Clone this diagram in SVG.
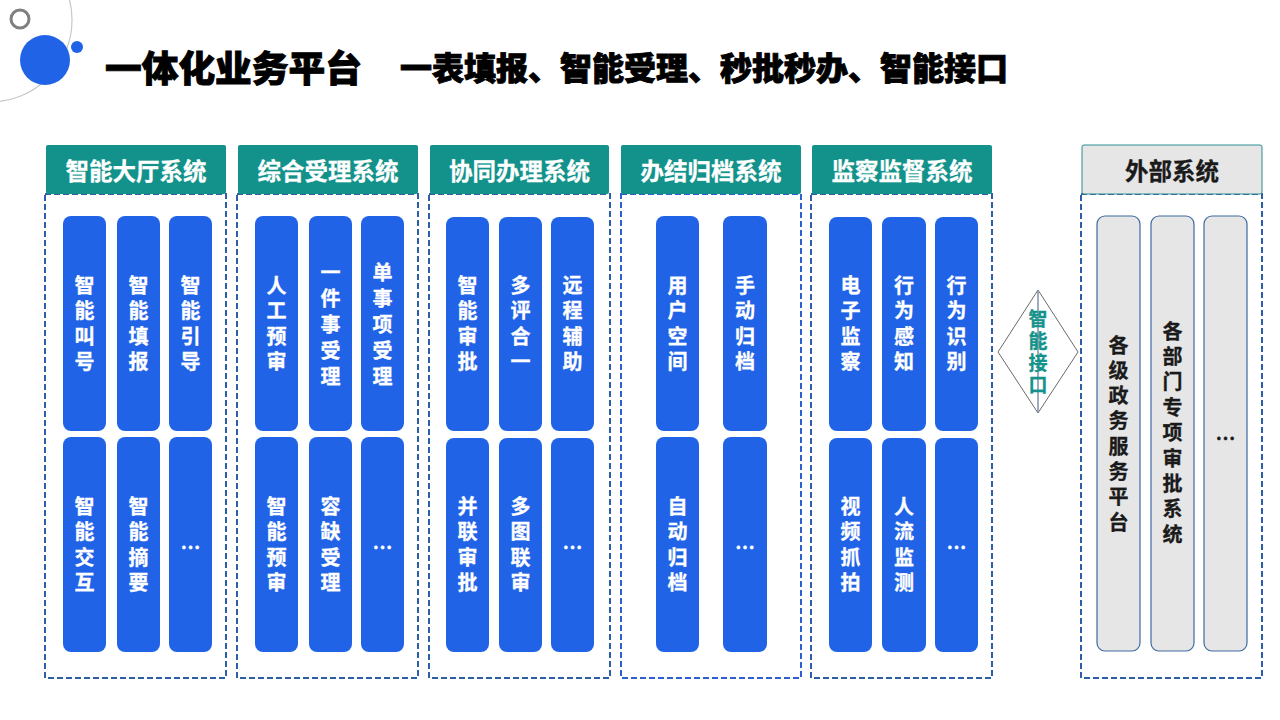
<svg xmlns="http://www.w3.org/2000/svg" width="1280" height="720" viewBox="0 0 1280 720">
<style>
.hd{fill:#12928A;}
.hdt{fill:#fff;font-family:"Noto Sans CJK SC",sans-serif;font-weight:700;font-size:23.5px;text-anchor:middle;dominant-baseline:central;stroke:#fff;stroke-width:0.3;}
.box{fill:#fff;stroke:#2F5EA8;stroke-width:2;stroke-dasharray:6 3;}
.pill{fill:#2163E7;}
.v{writing-mode:vertical-rl;text-anchor:middle;}
.pt{fill:#fff;font-family:"Noto Sans CJK SC",sans-serif;font-weight:700;font-size:20px;stroke:#fff;stroke-width:0.3;}
.l55{letter-spacing:5.5px;}
.l6{letter-spacing:6px;}
.dots{text-anchor:middle;dominant-baseline:central;}
.gp{fill:#E6E6E6;stroke:#3F6AA0;stroke-width:1.2;}
.gt{fill:#1a1a1a;font-family:"Noto Sans CJK SC",sans-serif;font-weight:700;font-size:20px;stroke:#1a1a1a;stroke-width:0.3;}
.title{fill:#000;font-family:"Noto Sans CJK SC",sans-serif;font-weight:900;dominant-baseline:central;stroke:#000;stroke-width:0.9;}
</style>
<rect width="1280" height="720" fill="#fff"/>
<g id="decor">
<circle cx="-10" cy="20" r="82" fill="none" stroke="#C8C8C8" stroke-width="1.2"/>
<circle cx="20" cy="19" r="9" fill="none" stroke="#808080" stroke-width="3"/>
<circle cx="45" cy="60" r="25" fill="#2163E7"/>
<circle cx="77" cy="47" r="6" fill="#2163E7"/>
</g>
<g id="title">
<text class="title" x="105" y="66" font-size="36.7">一体化业务平台</text>
<text class="title" x="400" y="66" font-size="32">一表填报、智能受理、秒批秒办、智能接口</text>
</g>

<g id="col1">
<rect class="box" x="45" y="194" width="181" height="484"/>
<rect class="hd" x="46" y="145" width="180" height="49" rx="2"/>
<text class="hdt" x="136" y="170">智能大厅系统</text>
<rect class="pill" x="63" y="216" width="43" height="215" rx="8"/>
<rect class="pill" x="117" y="216" width="43" height="215" rx="8"/>
<rect class="pill" x="169" y="216" width="43" height="215" rx="8"/>
<rect class="pill" x="63" y="437" width="43" height="215" rx="8"/>
<rect class="pill" x="117" y="437" width="43" height="215" rx="8"/>
<rect class="pill" x="169" y="437" width="43" height="215" rx="8"/>
<text class="pt v l55" x="84.5" y="326">智能叫号</text>
<text class="pt v l55" x="138.5" y="326">智能填报</text>
<text class="pt v l55" x="190.5" y="326">智能引导</text>
<text class="pt v l55" x="84.5" y="547">智能交互</text>
<text class="pt v l55" x="138.5" y="547">智能摘要</text>
<text class="pt dots" x="190.5" y="546">…</text>
</g>

<g id="col2">
<rect class="box" x="237" y="194" width="181" height="484"/>
<rect class="hd" x="238" y="145" width="180" height="49" rx="2"/>
<text class="hdt" x="328" y="170">综合受理系统</text>
<rect class="pill" x="255" y="216" width="43" height="215" rx="8"/>
<rect class="pill" x="309" y="216" width="43" height="215" rx="8"/>
<rect class="pill" x="361" y="216" width="43" height="215" rx="8"/>
<rect class="pill" x="255" y="437" width="43" height="215" rx="8"/>
<rect class="pill" x="309" y="437" width="43" height="215" rx="8"/>
<rect class="pill" x="361" y="437" width="43" height="215" rx="8"/>
<text class="pt v l55" x="276.5" y="326">人工预审</text>
<text class="pt v l6" x="330.5" y="327">一件事受理</text>
<text class="pt v l6" x="382.5" y="327">单事项受理</text>
<text class="pt v l55" x="276.5" y="547">智能预审</text>
<text class="pt v l55" x="330.5" y="547">容缺受理</text>
<text class="pt dots" x="382.5" y="546">…</text>
</g>

<g id="col3">
<rect class="box" x="429" y="194" width="181" height="484"/>
<rect class="hd" x="430" y="145" width="179" height="49" rx="2"/>
<text class="hdt" x="519.5" y="170">协同办理系统</text>
<rect class="pill" x="446" y="217" width="43" height="214" rx="8"/>
<rect class="pill" x="499" y="217" width="43" height="214" rx="8"/>
<rect class="pill" x="551" y="217" width="43" height="214" rx="8"/>
<rect class="pill" x="446" y="438" width="43" height="214" rx="8"/>
<rect class="pill" x="499" y="438" width="43" height="214" rx="8"/>
<rect class="pill" x="551" y="438" width="43" height="214" rx="8"/>
<text class="pt v l55" x="467.5" y="326">智能审批</text>
<text class="pt v l55" x="520.5" y="326">多评合一</text>
<text class="pt v l55" x="572.5" y="326">远程辅助</text>
<text class="pt v l55" x="467.5" y="547">并联审批</text>
<text class="pt v l55" x="520.5" y="547">多图联审</text>
<text class="pt dots" x="572.5" y="546">…</text>
</g>

<g id="col4">
<rect class="box" x="621" y="194" width="180" height="484" style="stroke:#2E5FD0"/>
<rect class="hd" x="621" y="145" width="180" height="49" rx="2"/>
<text class="hdt" x="711" y="170">办结归档系统</text>
<rect class="pill" x="656" y="216" width="43" height="215" rx="8"/>
<rect class="pill" x="723" y="216" width="44" height="215" rx="8"/>
<rect class="pill" x="656" y="437" width="43" height="215" rx="8"/>
<rect class="pill" x="723" y="437" width="44" height="215" rx="8"/>
<text class="pt v l55" x="677.5" y="326">用户空间</text>
<text class="pt v l55" x="745" y="326">手动归档</text>
<text class="pt v l55" x="677.5" y="547">自动归档</text>
<text class="pt dots" x="745" y="546">…</text>
</g>

<g id="col5">
<rect class="box" x="811" y="194" width="181" height="484"/>
<rect class="hd" x="812" y="145" width="180" height="49" rx="2"/>
<text class="hdt" x="902" y="170">监察监督系统</text>
<rect class="pill" x="829" y="217" width="43" height="214" rx="8"/>
<rect class="pill" x="882" y="217" width="44" height="214" rx="8"/>
<rect class="pill" x="935" y="217" width="43" height="214" rx="8"/>
<rect class="pill" x="829" y="438" width="43" height="214" rx="8"/>
<rect class="pill" x="882" y="438" width="44" height="214" rx="8"/>
<rect class="pill" x="935" y="438" width="43" height="214" rx="8"/>
<text class="pt v l55" x="850.5" y="326">电子监察</text>
<text class="pt v l55" x="904" y="326">行为感知</text>
<text class="pt v l55" x="956.5" y="326">行为识别</text>
<text class="pt v l55" x="850.5" y="547">视频抓拍</text>
<text class="pt v l55" x="904" y="547">人流监测</text>
<text class="pt dots" x="956.5" y="546">…</text>
</g>

<g id="interface">
<polygon points="1038,290 1078,352 1038,413 998,352" fill="#fff" stroke="#6A6A6A" stroke-width="1"/>
<line x1="1038" y1="290" x2="1038" y2="413" stroke="#8090A8" stroke-width="1.5"/>
<text class="pt v" x="1038" y="353" style="fill:#13938B;stroke:#13938B;font-size:19px;letter-spacing:3px">智能接口</text>
</g>

<g id="external">
<rect class="box" x="1081" y="194" width="181" height="484"/>
<rect x="1082" y="145" width="180" height="49" rx="2" fill="#E6E6E6" stroke="#2C8C90" stroke-width="1"/>
<text class="gt" x="1172" y="170" style="font-size:23.5px;text-anchor:middle;dominant-baseline:central">外部系统</text>
<rect class="gp" x="1097" y="216" width="43" height="435" rx="8"/>
<rect class="gp" x="1151" y="216" width="43" height="435" rx="8"/>
<rect class="gp" x="1204" y="216" width="43" height="435" rx="8"/>
<text class="gt v" x="1118.5" y="436.2" style="letter-spacing:5.3px">各级政务服务平台</text>
<text class="gt v" x="1172.5" y="435.3" style="letter-spacing:5.4px">各部门专项审批系统</text>
<text class="gt dots" x="1225.5" y="437">…</text>
</g>
</svg>
